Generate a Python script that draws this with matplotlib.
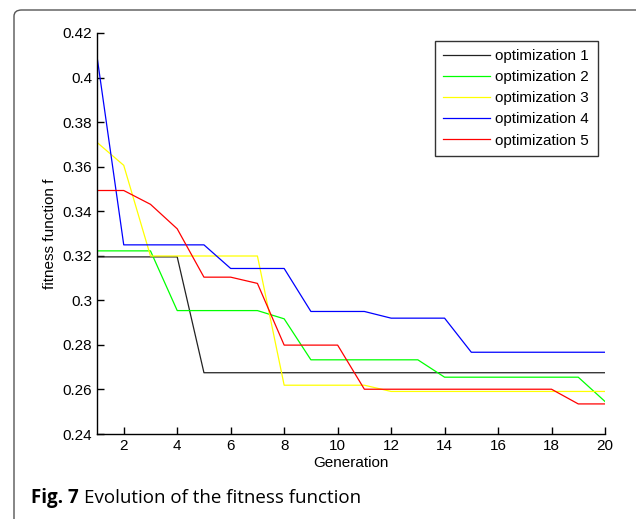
import matplotlib
matplotlib.use("Agg")
import matplotlib.pyplot as plt
from matplotlib.patches import FancyBboxPatch
import numpy as np

generation = np.arange(1, 21)

opt1 = [0.3195, 0.3195, 0.3195, 0.3195, 0.2675, 0.2675, 0.2675, 0.2675, 0.2675, 0.2675,
        0.2675, 0.2675, 0.2675, 0.2675, 0.2675, 0.2675, 0.2675, 0.2675, 0.2675, 0.2675]
opt2 = [0.3222, 0.3222, 0.3222, 0.2954, 0.2954, 0.2954, 0.2954, 0.2917, 0.2733, 0.2733,
        0.2733, 0.2733, 0.2733, 0.2655, 0.2655, 0.2655, 0.2655, 0.2655, 0.2655, 0.2546]
opt3 = [0.3709, 0.3606, 0.3199, 0.3199, 0.3199, 0.3199, 0.3199, 0.2619, 0.2619, 0.2619,
        0.2619, 0.2591, 0.2591, 0.2591, 0.2591, 0.2591, 0.2591, 0.2591, 0.2591, 0.2591]
opt4 = [0.4095, 0.3249, 0.3249, 0.3249, 0.3249, 0.3143, 0.3143, 0.3143, 0.2950, 0.2950,
        0.2950, 0.2920, 0.2920, 0.2920, 0.2767, 0.2767, 0.2767, 0.2767, 0.2767, 0.2767]
opt5 = [0.3493, 0.3493, 0.3431, 0.3321, 0.3104, 0.3104, 0.3076, 0.2799, 0.2799, 0.2799,
        0.2601, 0.2601, 0.2601, 0.2601, 0.2601, 0.2601, 0.2601, 0.2601, 0.2535, 0.2535]

series = [opt1, opt2, opt3, opt4, opt5]
labels = ["optimization 1", "optimization 2", "optimization 3", "optimization 4", "optimization 5"]
colors = ["#222222", "#00ff00", "#ffff00", "#0000ff", "#ff0000"]

xticks = np.arange(2, 21, 2)
yticks = [0.24, 0.26, 0.28, 0.30, 0.32, 0.34, 0.36, 0.38, 0.40, 0.42]
yticklabels = ["0.24", "0.26", "0.28", "0.3", "0.32", "0.34", "0.36", "0.38", "0.4", "0.42"]

plt.rcParams['font.family'] = ['Liberation Sans', 'DejaVu Sans']

fig = plt.figure(figsize=(6.36, 5.19), dpi=100)

# rounded frame around the figure panel
frame = FancyBboxPatch((14 / 636, -0.2), 1.2, 1 - 10 / 519 + 0.2,
                       boxstyle="round,pad=0,rounding_size=0.012",
                       transform=fig.transFigure, fill=False,
                       edgecolor="#555555", linewidth=1.0)
fig.patches.append(frame)

ax = fig.add_axes([97 / 636, 1 - 434 / 519, (605 - 97) / 636, (434 - 33) / 519])

for vals, lab, col in zip(series, labels, colors):
    ax.plot(generation, vals, color=col, linewidth=0.9, label=lab)

ax.set_xlim(1, 20)
ax.set_ylim(0.24, 0.42)
ax.set_xticks(xticks)
ax.set_yticks(yticks)
ax.set_yticklabels(yticklabels)
ax.tick_params(direction="in", length=5, width=1, labelsize=11)
ax.spines["top"].set_visible(False)
ax.spines["right"].set_visible(False)
ax.spines["left"].set_linewidth(1)
ax.spines["bottom"].set_linewidth(1)
ax.set_xlabel("Generation", fontsize=11, labelpad=2)
ax.set_ylabel("fitness function f", fontsize=11, labelpad=4)

leg = ax.legend(loc="upper right", bbox_to_anchor=(597.5 / 636, 1 - 41 / 519),
                bbox_transform=fig.transFigure, fontsize=11, frameon=True,
                fancybox=False, edgecolor="black", handlelength=3.07,
                labelspacing=0.46, borderpad=0.55, handletextpad=0.33,
                borderaxespad=0)
leg.get_frame().set_linewidth(1)

fig.text(31 / 636, 1 - 498 / 519, "Fig. 7", fontsize=13.5, fontweight="bold",
         family=["Open Sans", "DejaVu Sans"], va="center", ha="left")
fig.text(84 / 636, 1 - 498 / 519, "Evolution of the fitness function", fontsize=13.5,
         family=["Open Sans", "DejaVu Sans"], va="center", ha="left")

fig.savefig("out.png", dpi=100)
